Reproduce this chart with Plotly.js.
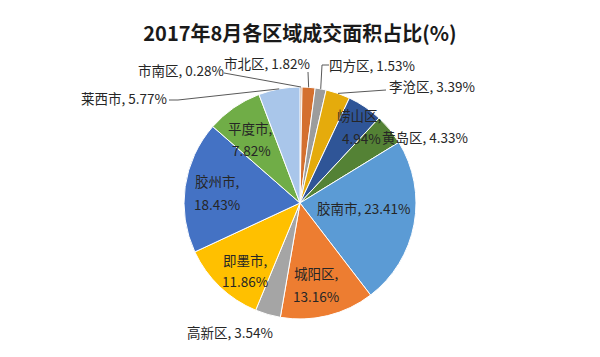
<!DOCTYPE html>
<html>
<head>
<meta charset="utf-8">
<script src="https://cdn.plot.ly/plotly-3.0.1.min.js"></script>
<style>html,body{margin:0;padding:0;background:#fff;}#chart{width:600px;height:357px;}</style>
</head>
<body>
<div id="chart"></div>
<script>
// ---- data ----
const labels = ['市南区','市北区','四方区','李沧区','崂山区','黄岛区','胶南市','城阳区','高新区','即墨市','胶州市','平度市','莱西市'];
const values = [0.28, 1.82, 1.53, 3.39, 4.94, 4.33, 23.41, 13.16, 3.54, 11.86, 18.43, 7.82, 5.77];
const colors = ['#9E480E','#D4702F','#9C9C9C','#E5AB0C','#2F5597','#548235','#5B9BD5','#ED7D31','#A5A5A5','#FFC000','#4472C4','#70AD47','#A9C6EA'];
const titleText = '2017年8月各区域成交面积占比(%)';

// ---- layout geometry (pixels) ----
const W = 600, H = 357, CX = 300, CY = 203, R = 116;
const FONT = '"Noto Sans CJK SC", "Microsoft YaHei", sans-serif';
// label placement: lines = centre of each text line; leader = points from text to slice edge (edge computed from data)
const labelPlace = {
  '市南区': {lines: [[181, 70]], leader: [[224, 73]]},
  '市北区': {lines: [[267, 63]], leader: [[308, 72]]},
  '四方区': {lines: [[372, 65]], leader: [[329, 65], [322, 65]]},
  '李沧区': {lines: [[432, 86]], leader: [[386, 90]]},
  '崂山区': {lines: [[359, 115], [361, 138]], two: true},
  '黄岛区': {lines: [[425, 137]]},
  '胶南市': {lines: [[363, 208]]},
  '城阳区': {lines: [[316, 273], [316, 296]], two: true},
  '高新区': {lines: [[230, 332]]},
  '即墨市': {lines: [[245, 260], [245, 281]], two: true},
  '胶州市': {lines: [[217, 181], [217, 204]], two: true},
  '平度市': {lines: [[250, 128], [251, 150]], two: true},
  '莱西市': {lines: [[124, 98]], leader: [[169, 100], [178, 100]]}
};

const px = x => x / W;
const py = y => 1 - y / H;

const total = values.reduce((a, b) => a + b, 0);
const annotations = [];
const shapes = [];
let cum = 0;
labels.forEach((lab, i) => {
  const v = values[i];
  const mid = (cum + v / 2) / total * 2 * Math.PI;
  cum += v;
  const edge = [CX + R * Math.sin(mid), CY - R * Math.cos(mid)];
  const p = labelPlace[lab];
  const valTxt = v.toFixed(2) + '%';
  const texts = p.two ? [lab + ',', valTxt] : [lab + ', ' + valTxt];
  texts.forEach((t, k) => {
    annotations.push({
      text: t, x: px(p.lines[k][0]), y: py(p.lines[k][1]), xref: 'paper', yref: 'paper',
      xanchor: 'center', yanchor: 'middle', showarrow: false,
      font: {family: FONT, size: 13.5, color: '#262626'}
    });
  });
  if (p.leader) {
    const pts = p.leader.concat([edge]);
    const path = pts.map((q, k) => (k ? 'L' : 'M') + px(q[0]) + ',' + py(q[1])).join(' ');
    shapes.push({type: 'path', xref: 'paper', yref: 'paper', path: path,
      line: {color: '#595959', width: 1}});
  }
});

const trace = {
  type: 'pie',
  labels: labels,
  values: values,
  sort: false,
  direction: 'clockwise',
  rotation: 0,
  textinfo: 'none',
  hoverinfo: 'label+percent',
  marker: {colors: colors, line: {color: '#ffffff', width: 1}},
  domain: {x: [(CX - R) / W, (CX + R) / W], y: [py(CY + R), py(CY - R)]},
  showlegend: false
};

const layout = {
  width: W, height: H,
  margin: {l: 0, r: 0, t: 0, b: 0},
  paper_bgcolor: '#ffffff',
  title: {text: '<b>' + titleText + '</b>', x: 0.5, xanchor: 'center', y: py(34), yanchor: 'middle',
    font: {family: FONT, size: 20, color: '#1a1a1a'}},
  annotations: annotations,
  shapes: shapes,
  showlegend: false
};

Plotly.newPlot('chart', [trace], layout, {displayModeBar: false, staticPlot: true});
</script>
</body>
</html>
